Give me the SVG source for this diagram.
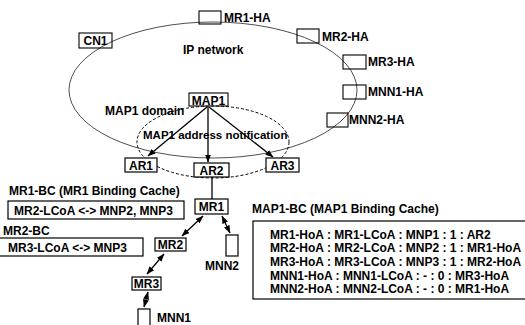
<svg xmlns="http://www.w3.org/2000/svg" width="525" height="325" viewBox="0 0 525 325">
<defs>
<marker id="ah" markerUnits="userSpaceOnUse" markerWidth="8" markerHeight="6" refX="7.5" refY="3" orient="auto-start-reverse"><path d="M0,0 L8,3 L0,6 z" fill="#000"/></marker>
<style>
text{font-family:"Liberation Sans",Arial,sans-serif;font-weight:bold;font-size:12px;fill:#000}
.box{fill:#fff;stroke:#000;stroke-width:1.2}
.hbox{fill:none;stroke:#000;stroke-width:1.1}
.c{text-anchor:middle}
.ln{stroke:#000;stroke-width:1.3;fill:none}
</style>
</defs>
<rect width="525" height="325" fill="#fff"/>
<g id="ip-network">
<ellipse cx="213" cy="90" rx="144" ry="68" fill="none" stroke="#222" stroke-width="0.8"/>
<text x="183" y="54">IP network</text>
</g>
<g id="map1-domain">
<ellipse cx="213" cy="142" rx="76" ry="36" fill="none" stroke="#000" stroke-width="1" stroke-dasharray="3,2"/>
<text x="105" y="115">MAP1 domain</text>
<text x="143" y="139" font-size="11.5" style="font-size:11.5px">MAP1 address notification</text>
</g>
<g id="connectors">
<line class="ln" x1="207" y1="107" x2="148" y2="156" marker-end="url(#ah)"/>
<line class="ln" x1="208" y1="107" x2="208" y2="162" marker-end="url(#ah)"/>
<line class="ln" x1="209" y1="107" x2="273" y2="157" marker-end="url(#ah)"/>
<line class="ln" x1="212" y1="177" x2="212" y2="199"/>
<line class="ln" x1="203" y1="216" x2="182" y2="236" marker-start="url(#ah)" marker-end="url(#ah)"/>
<line class="ln" x1="222" y1="216" x2="230" y2="233" marker-start="url(#ah)" marker-end="url(#ah)"/>
<line class="ln" x1="164" y1="254" x2="147" y2="274" marker-start="url(#ah)" marker-end="url(#ah)"/>
<line class="ln" x1="148" y1="292" x2="144" y2="307" marker-start="url(#ah)" marker-end="url(#ah)"/>
</g>
<g id="mr1-ha"><rect class="hbox" x="199" y="11" width="22" height="13"/><text x="224" y="22">MR1-HA</text></g>
<g id="mr2-ha"><rect class="hbox" x="297" y="29" width="22" height="14"/><text x="322" y="41">MR2-HA</text></g>
<g id="mr3-ha"><rect class="hbox" x="343" y="55" width="23" height="14"/><text x="368" y="66">MR3-HA</text></g>
<g id="mnn1-ha"><rect class="hbox" x="343" y="85" width="23" height="14"/><text x="368" y="96">MNN1-HA</text></g>
<g id="mnn2-ha"><rect class="hbox" x="327" y="113" width="21" height="14"/><text x="349" y="124">MNN2-HA</text></g>
<g id="cn1"><rect class="hbox" x="79" y="33" width="33" height="15"/><text x="95.5" y="45" class="c">CN1</text></g>
<g id="map1"><rect class="hbox" x="189" y="93" width="39" height="13"/><text x="208.5" y="105" class="c">MAP1</text></g>
<g id="ar1"><rect class="box" x="125" y="158" width="32" height="14"/><text x="141" y="170" class="c">AR1</text></g>
<g id="ar2"><rect class="box" x="194" y="163" width="35" height="14"/><text x="211.5" y="175" class="c">AR2</text></g>
<g id="ar3"><rect class="box" x="266" y="158" width="33" height="14"/><text x="282.5" y="170" class="c">AR3</text></g>
<g id="mr1"><rect class="box" x="195" y="199" width="33" height="15"/><text x="211.5" y="211" class="c">MR1</text></g>
<g id="mr2"><rect class="box" x="155" y="238" width="31" height="13"/><text x="170.5" y="249" class="c">MR2</text></g>
<g id="mr3"><rect class="box" x="132" y="277" width="29" height="13"/><text x="146.5" y="288" class="c">MR3</text></g>
<g id="mnn2"><rect class="box" x="226" y="235" width="12" height="21"/><text x="205" y="270">MNN2</text></g>
<g id="mnn1"><rect class="box" x="138" y="309" width="12" height="20"/><text x="157" y="322">MNN1</text></g>
<g id="mr1-bc">
<text x="9" y="195">MR1-BC (MR1 Binding Cache)</text>
<rect class="box" x="8" y="201" width="176" height="18"/>
<text x="14" y="215">MR2-LCoA &lt;-&gt; MNP2, MNP3</text>
</g>
<g id="mr2-bc">
<text x="3" y="235">MR2-BC</text>
<rect class="box" x="-5" y="238" width="148" height="18"/>
<text x="8" y="252">MR3-LCoA &lt;-&gt; MNP3</text>
</g>
<g id="map1-bc">
<text x="252" y="213">MAP1-BC (MAP1 Binding Cache)</text>
<rect class="box" x="253" y="221" width="280" height="78"/>
<text x="270" y="238.5">MR1-HoA : MR1-LCoA : MNP1 : 1 : AR2</text>
<text x="270" y="252.2">MR2-HoA : MR2-LCoA : MNP2 : 1 : MR1-HoA</text>
<text x="270" y="265.9">MR3-HoA : MR3-LCoA : MNP3 : 1 : MR2-HoA</text>
<text x="270" y="279.6">MNN1-HoA : MNN1-LCoA : - : 0 : MR3-HoA</text>
<text x="270" y="293.3">MNN2-HoA : MNN2-LCoA : - : 0 : MR1-HoA</text>
</g>
</svg>
